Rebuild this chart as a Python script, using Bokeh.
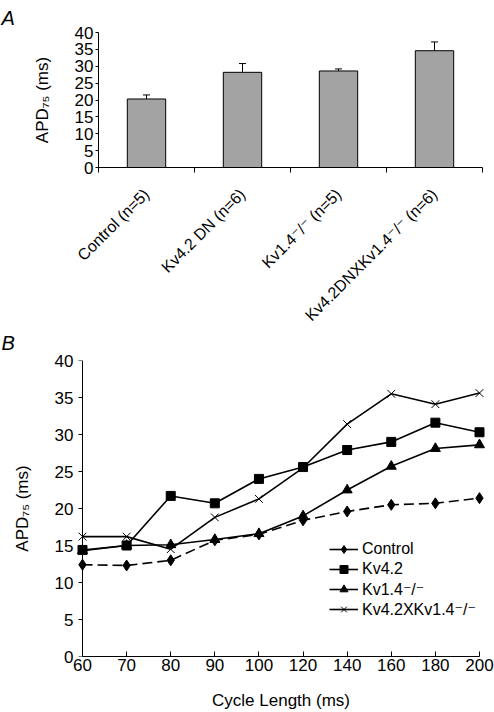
import math
from bokeh.plotting import figure
from bokeh.models import (Range1d, FixedTicker, ColumnDataSource, Whisker, TeeHead,
                          Legend, LegendItem, Span)
from bokeh.embed import file_html
from bokeh.resources import INLINE

# ---------------- Panel A data ----------------
a_groups = ["Control (n=5)", "Kv4.2 DN (n=6)", "Kv1.4\u207b/\u207b (n=5)",
            "Kv4.2DNXKv1.4\u207b/\u207b (n=6)"]
a_values = [20.3, 28.2, 28.6, 34.6]
a_errors = [1.2, 2.6, 0.6, 2.6]
a_yticks = [0, 5, 10, 15, 20, 25, 30, 35, 40]

# ---------------- Panel B data ----------------
b_cycle = [60, 70, 80, 90, 100, 120, 140, 160, 180, 200]
b_control = [12.4, 12.3, 13.0, 15.7, 16.5, 18.4, 19.6, 20.5, 20.7, 21.4]
b_kv42 = [14.4, 15.0, 21.7, 20.7, 24.0, 25.6, 27.9, 29.0, 31.6, 30.3]
b_kv14 = [14.3, 15.0, 15.1, 15.8, 16.6, 19.0, 22.5, 25.7, 28.1, 28.6]
b_dko = [16.2, 16.2, 14.5, 18.8, 21.3, 25.5, 31.4, 35.5, 34.1, 35.6]
b_yticks = [0, 5, 10, 15, 20, 25, 30, 35, 40]
b_series_names = ["Control", "Kv4.2", "Kv1.4\u207b/\u207b", "Kv4.2XKv1.4\u207b/\u207b"]

FONT = "Liberation Sans, DejaVu Sans"
TICK_FS = "17px"


def style_axis(ax, size=TICK_FS):
    ax.axis_line_color = "black"
    ax.axis_line_width = 1
    ax.major_label_text_font = FONT
    ax.major_label_text_font_size = size
    ax.major_label_text_color = "black"
    ax.axis_label_text_font = FONT
    ax.axis_label_text_font_size = size
    ax.axis_label_text_font_style = "normal"
    ax.axis_label_text_color = "black"


def style_title(p, text, standoff):
    p.title.text = text
    p.title.text_font = FONT
    p.title.text_font_size = "20px"
    p.title.text_font_style = "italic"
    p.title.text_color = "black"
    p.title.align = "left"
    p.title.standoff = standoff


# ---------------- Panel A ----------------
pa = figure(width=494, height=333, x_range=Range1d(0, len(a_groups)),
            y_range=Range1d(0, 40), output_backend="svg", toolbar_location=None,
            min_border_left=98, min_border_right=12, min_border_top=31,
            min_border_bottom=166)
pa.outline_line_color = None
pa.xgrid.visible = False
pa.ygrid.visible = False
style_title(pa, "A", 8)
pa.title.offset = -97

a_x = [i + 0.5 for i in range(len(a_groups))]
a_src = ColumnDataSource(dict(x=a_x, top=a_values,
                              upper=[v + e for v, e in zip(a_values, a_errors)]))
pa.vbar(x="x", top="top", width=0.4, source=a_src, fill_color="#a3a3a3",
        line_color="black", line_width=1)
pa.add_layout(Whisker(source=a_src, base="x", lower="top", upper="upper",
                      dimension="height", line_color="black", line_width=1,
                      lower_head=None,
                      upper_head=TeeHead(size=7, line_color="black", line_width=1)))

xa = pa.xaxis[0]
style_axis(xa)
xa.major_label_text_font_size = "16px"
xa.ticker = FixedTicker(ticks=a_x, minor_ticks=list(range(len(a_groups) + 1)))
xa.major_label_overrides = {x: g for x, g in zip(a_x, a_groups)}
xa.major_tick_line_color = None
xa.minor_tick_line_color = "black"
xa.minor_tick_out = 5
xa.minor_tick_in = 0
xa.major_label_orientation = math.pi / 4
xa.major_label_standoff = 18

ya = pa.yaxis[0]
style_axis(ya)
ya.ticker = FixedTicker(ticks=a_yticks, minor_ticks=[])
ya.major_tick_out = 3
ya.major_tick_in = 0
ya.major_label_standoff = 2
ya.axis_label = "APD\u2087\u2085 (ms)"
ya.axis_label_standoff = 20

# ---------------- Panel B ----------------
pad = 0.159
pb = figure(width=494, height=389, x_range=Range1d(-pad, len(b_cycle) - 1 + pad),
            y_range=Range1d(0, 40), output_backend="svg", toolbar_location=None,
            min_border_left=75, min_border_right=8, min_border_top=36,
            min_border_bottom=54, margin=(-10, 0, 0, 0))
pb.outline_line_color = None
pb.border_fill_color = None
pb.background_fill_color = None
pb.xgrid.visible = False
pb.ygrid.visible = False
style_title(pb, "B", 13)
pb.title.offset = -74

b_x = list(range(len(b_cycle)))
src_b = ColumnDataSource(dict(x=b_x, control=b_control, kv42=b_kv42,
                              kv14=b_kv14, dko=b_dko))

# y axis line and outward ticks drawn at the first category (60 ms)
pb.add_layout(Span(location=b_x[0], dimension="height", line_color="black",
                   line_width=1))
pb.ray(x=b_x[0], y=b_yticks, length=4, length_units="screen", angle=math.pi,
       line_color="black", line_width=1)

LW = 1.6
r_c_line = pb.line("x", "control", source=src_b, line_color="black",
                   line_width=LW, line_dash="10 5")
r_c_proxy = pb.line("x", "control", source=src_b, line_color="black",
                    line_width=LW, visible=False)
r_c_pts = pb.scatter("x", "control", source=src_b, marker="diamond", size=11,
                     fill_color="black", line_color="black")
r_42_line = pb.line("x", "kv42", source=src_b, line_color="black", line_width=LW)
r_42_pts = pb.scatter("x", "kv42", source=src_b, marker="square", size=9,
                      fill_color="black", line_color="black")
r_14_line = pb.line("x", "kv14", source=src_b, line_color="black", line_width=LW)
r_14_pts = pb.scatter("x", "kv14", source=src_b, marker="triangle", size=10,
                      fill_color="black", line_color="black")
r_dk_line = pb.line("x", "dko", source=src_b, line_color="black", line_width=LW)
r_dk_pts = pb.scatter("x", "dko", source=src_b, marker="x", size=11,
                      line_color="black", line_width=1)

legend = Legend(items=[
    LegendItem(label=b_series_names[0], renderers=[r_c_proxy, r_c_pts]),
    LegendItem(label=b_series_names[1], renderers=[r_42_line, r_42_pts]),
    LegendItem(label=b_series_names[2], renderers=[r_14_line, r_14_pts]),
    LegendItem(label=b_series_names[3], renderers=[r_dk_line, r_dk_pts]),
], location=(254, 37))
legend.border_line_color = None
legend.background_fill_alpha = 0
legend.padding = 0
legend.margin = 0
legend.spacing = 0
legend.glyph_width = 29
legend.glyph_height = 20
legend.label_height = 20
legend.label_standoff = 4
legend.label_text_font = FONT
legend.label_text_font_size = "16px"
legend.label_text_color = "black"
legend.inactive_fill_alpha = 0
pb.add_layout(legend)

xb = pb.xaxis[0]
style_axis(xb)
xb.ticker = FixedTicker(ticks=b_x, minor_ticks=[])
xb.major_label_overrides = {x: str(c) for x, c in zip(b_x, b_cycle)}
xb.bounds = (b_x[0], b_x[-1])
xb.major_tick_in = 5
xb.major_tick_out = 0
xb.major_tick_line_color = "black"
xb.major_label_standoff = 2
xb.axis_label = "Cycle Length (ms)"
xb.axis_label_standoff = 17

yb = pb.yaxis[0]
style_axis(yb)
yb.ticker = FixedTicker(ticks=b_yticks, minor_ticks=[])
yb.axis_line_color = None
yb.major_tick_line_color = None
yb.major_tick_out = 0
yb.major_tick_in = 0
yb.major_label_standoff = 2
yb.axis_label = "APD\u2087\u2085 (ms)"
yb.axis_label_standoff = 20

# two independent roots so that the plot frames are not aligned to each other
open("out.html", "w").write(file_html([pa, pb], INLINE))
